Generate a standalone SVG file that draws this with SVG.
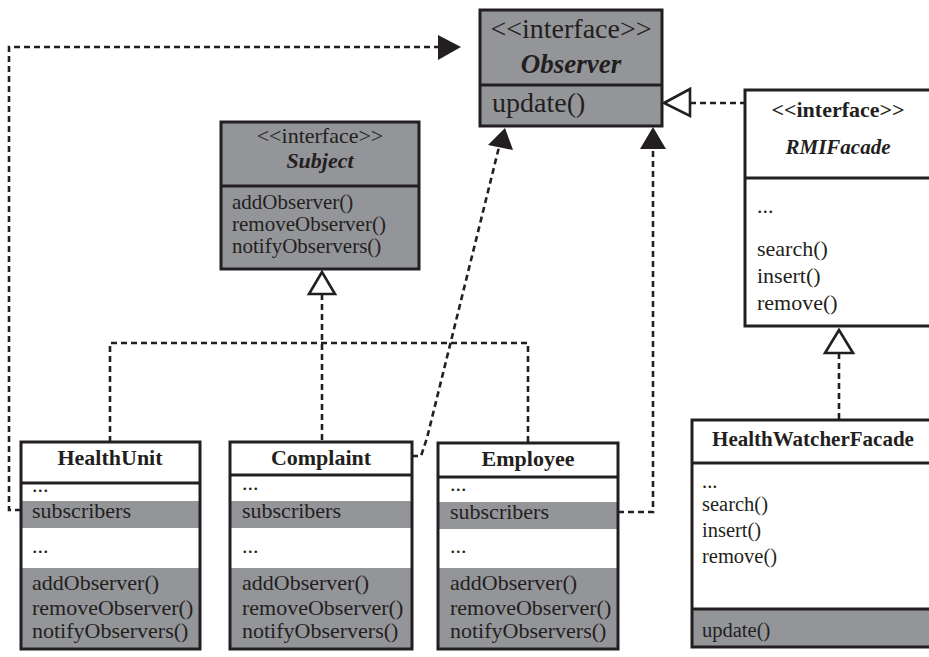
<svg xmlns="http://www.w3.org/2000/svg" width="929" height="657" viewBox="0 0 929 657">
<style>
  .box { fill: none; stroke: #231f20; stroke-width: 3; }
  .g { fill: #939598; }
  .w { fill: #ffffff; }
  .div { stroke: #231f20; stroke-width: 3; }
  .t { font-family: "Liberation Serif", "Times New Roman", serif; fill: #231f20; }
  .b { font-weight: bold; }
  .bi { font-weight: bold; font-style: italic; }
  .c { text-anchor: middle; }
  .dash { fill: none; stroke: #231f20; stroke-width: 2.6; stroke-dasharray: 6 4; }
  .fill { fill: #231f20; }
  .open { fill: #ffffff; stroke: #231f20; stroke-width: 2.6; stroke-linejoin: miter; }
</style>
<rect width="929" height="657" fill="#ffffff"/>

<g id="connectors">
  <polyline class="dash" points="21,510 9,510 9,47 440,47"/>
  <polygon class="fill" points="438,35 461,47 438,60"/>
  <polyline class="dash" points="412,456 421,456 427,438 499,147"/>
  <polygon class="fill" points="505,128 488,145 513,150"/>
  <polyline class="dash" points="618,512 653,512 653,148"/>
  <polygon class="fill" points="653,127 640,149 666,149"/>
  <line class="dash" x1="690" y1="103" x2="745" y2="103"/>
  <polygon class="open" points="664,103 690,89 690,116"/>
  <line class="dash" x1="322" y1="294" x2="322" y2="442"/>
  <polyline class="dash" points="110,442 110,343 528,343 528,443"/>
  <polygon class="open" points="322,272 309,294 335,294"/>
  <line class="dash" x1="839" y1="353" x2="839" y2="420"/>
  <polygon class="open" points="839,330 825,353 853,353"/>
</g>

<g id="observer">
  <rect class="g" x="480" y="10" width="182" height="116"/>
  <line class="div" x1="480" y1="85" x2="662" y2="85"/>
  <rect class="box" x="480" y="10" width="182" height="116"/>
  <text class="t c" x="571" y="38" font-size="28">&lt;&lt;interface&gt;&gt;</text>
  <text class="t c bi" x="571" y="73" font-size="27">Observer</text>
  <text class="t" x="492" y="112" font-size="28">update()</text>
</g>

<g id="subject">
  <rect class="g" x="221" y="122" width="198" height="147"/>
  <line class="div" x1="221" y1="186" x2="419" y2="186"/>
  <rect class="box" x="221" y="122" width="198" height="147"/>
  <text class="t c" x="320" y="143" font-size="22">&lt;&lt;interface&gt;&gt;</text>
  <text class="t c bi" x="320" y="168" font-size="22">Subject</text>
  <text class="t" x="232" y="209" font-size="21">addObserver()</text>
  <text class="t" x="232" y="231" font-size="21">removeObserver()</text>
  <text class="t" x="232" y="253" font-size="21">notifyObservers()</text>
</g>

<g id="rmifacade">
  <rect class="w" x="745" y="90" width="190" height="236"/>
  <line class="div" x1="745" y1="178" x2="935" y2="178"/>
  <rect class="box" x="745" y="90" width="190" height="236"/>
  <text class="t c b" x="838" y="117" font-size="22">&lt;&lt;interface&gt;&gt;</text>
  <text class="t c bi" x="838" y="154" font-size="21">RMIFacade</text>
  <text class="t" x="757" y="213" font-size="22">...</text>
  <text class="t" x="757" y="256" font-size="22">search()</text>
  <text class="t" x="757" y="283" font-size="22">insert()</text>
  <text class="t" x="757" y="310" font-size="22">remove()</text>
</g>

<g id="healthunit">
  <rect class="w" x="21" y="442" width="179" height="207"/>
  <rect class="g" x="21" y="501" width="179" height="27"/>
  <rect class="g" x="21" y="568" width="179" height="81"/>
  <line class="div" x1="21" y1="483" x2="200" y2="483"/>
  <rect class="box" x="21" y="442" width="179" height="207"/>
  <text class="t c b" x="110" y="465" font-size="22">HealthUnit</text>
  <text class="t" x="32" y="492" font-size="22">...</text>
  <text class="t" x="32" y="518" font-size="22">subscribers</text>
  <text class="t" x="32" y="553" font-size="22">...</text>
  <text class="t" x="32" y="590" font-size="22">addObserver()</text>
  <text class="t" x="32" y="615" font-size="22">removeObserver()</text>
  <text class="t" x="32" y="638" font-size="22">notifyObservers()</text>
</g>

<g id="complaint">
  <rect class="w" x="230" y="442" width="182" height="207"/>
  <rect class="g" x="230" y="501" width="182" height="27"/>
  <rect class="g" x="230" y="568" width="182" height="81"/>
  <line class="div" x1="230" y1="475" x2="412" y2="475"/>
  <rect class="box" x="230" y="442" width="182" height="207"/>
  <text class="t c b" x="321" y="465" font-size="22">Complaint</text>
  <text class="t" x="242" y="490" font-size="22">...</text>
  <text class="t" x="242" y="518" font-size="22">subscribers</text>
  <text class="t" x="242" y="553" font-size="22">...</text>
  <text class="t" x="242" y="590" font-size="22">addObserver()</text>
  <text class="t" x="242" y="615" font-size="22">removeObserver()</text>
  <text class="t" x="242" y="638" font-size="22">notifyObservers()</text>
</g>

<g id="employee">
  <rect class="w" x="438" y="443" width="180" height="206"/>
  <rect class="g" x="438" y="502" width="180" height="27"/>
  <rect class="g" x="438" y="568" width="180" height="81"/>
  <line class="div" x1="438" y1="477" x2="618" y2="477"/>
  <rect class="box" x="438" y="443" width="180" height="206"/>
  <text class="t c b" x="528" y="466" font-size="22">Employee</text>
  <text class="t" x="450" y="491" font-size="22">...</text>
  <text class="t" x="450" y="519" font-size="22">subscribers</text>
  <text class="t" x="450" y="553" font-size="22">...</text>
  <text class="t" x="450" y="590" font-size="22">addObserver()</text>
  <text class="t" x="450" y="615" font-size="22">removeObserver()</text>
  <text class="t" x="450" y="638" font-size="22">notifyObservers()</text>
</g>

<g id="healthwatcherfacade">
  <rect class="w" x="692" y="420" width="243" height="227"/>
  <rect class="g" x="692" y="609" width="243" height="38"/>
  <line class="div" x1="692" y1="463" x2="935" y2="463"/>
  <line class="div" x1="692" y1="609" x2="935" y2="609"/>
  <rect class="box" x="692" y="420" width="243" height="227"/>
  <text class="t c b" x="813" y="446" font-size="21">HealthWatcherFacade</text>
  <text class="t" x="702" y="488" font-size="20.5">...</text>
  <text class="t" x="702" y="511" font-size="20.5">search()</text>
  <text class="t" x="702" y="537" font-size="20.5">insert()</text>
  <text class="t" x="702" y="563" font-size="20.5">remove()</text>
  <text class="t" x="702" y="637" font-size="20.5">update()</text>
</g>
</svg>
